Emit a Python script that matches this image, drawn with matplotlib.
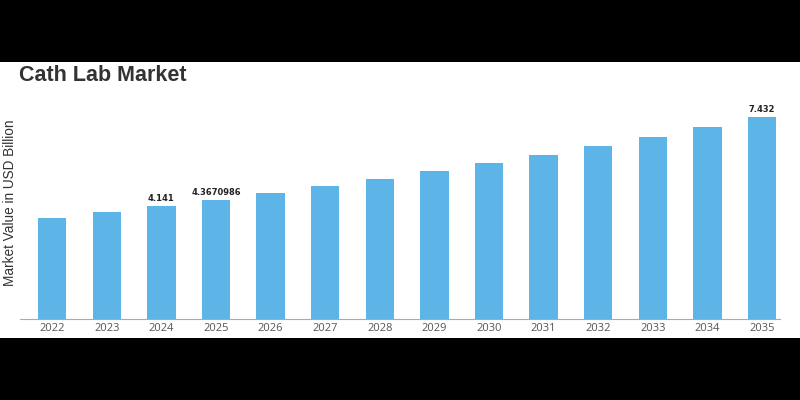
import matplotlib.pyplot as plt
from matplotlib.patches import Rectangle

# values
years = ['2022', '2023', '2024', '2025', '2026', '2027', '2028',
         '2029', '2030', '2031', '2032', '2033', '2034', '2035']
values = [3.70, 3.92, 4.141, 4.3670986, 4.62, 4.88, 5.14,
          5.43, 5.73, 6.03, 6.36, 6.69, 7.06, 7.432]
labelled = {'2024': '4.141', '2025': '4.3670986', '2035': '7.432'}

fig = plt.figure(figsize=(8, 4), dpi=100, facecolor='black')
# white band between the black borders
fig.patches.append(Rectangle((0, 62 / 400), 1, 276 / 400, transform=fig.transFigure,
                             facecolor='white', edgecolor='none', zorder=-10))

ax = fig.add_axes([0.025, 0.2025, 0.95, 0.5475])
ax.set_facecolor('white')
x = range(len(years))
ax.bar(x, values, width=0.52, color='#5DB4E6', zorder=2)

for i, (y, v) in enumerate(zip(years, values)):
    if y in labelled:
        ax.text(i, v + 0.12, labelled[y], ha='center', va='bottom',
                fontsize=6, fontweight='bold', color='#222222')

ax.set_xlim(-0.59, 13.33)
ax.set_ylim(0, 8.06)
ax.set_xticks(list(x))
ax.set_xticklabels(years, fontsize=8, color='#555555', family='Open Sans')
ax.tick_params(axis='x', length=0, pad=3)
ax.set_yticks([])
for s in ['top', 'right', 'left']:
    ax.spines[s].set_visible(False)
ax.spines['bottom'].set_color('#aaaaaa')
ax.spines['bottom'].set_linewidth(0.8)

fig.text(0.0125, 0.494, 'Market Value in USD Billion', rotation=90, ha='center', va='center',
         fontsize=9.8, color='#333333', family='Liberation Sans')
fig.text(0.024, 0.812, 'Cath Lab Market', ha='left', va='center',
         fontsize=15.5, fontweight='bold', color='#333333', family='Liberation Sans')

fig.savefig('out.png', dpi=100, facecolor=fig.get_facecolor())
